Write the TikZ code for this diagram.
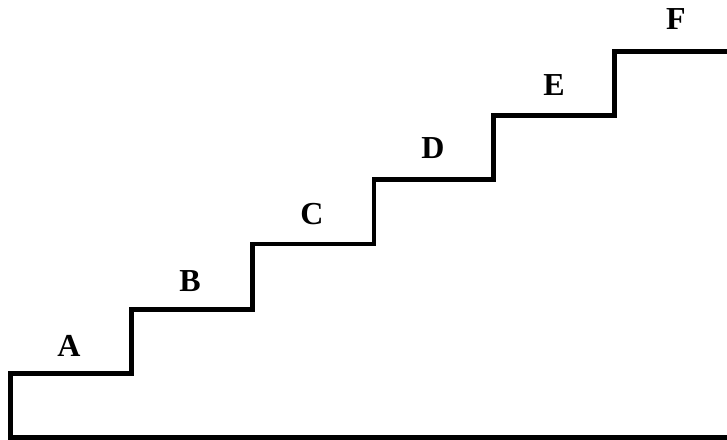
\documentclass[tikz,border=0pt]{standalone}
\usepackage{fontspec}
\setmainfont{Liberation Serif}
\begin{document}
\begin{tikzpicture}[x=1pt,y=-1pt,
  stair/.style={line width=4.6pt,line join=miter,line cap=rect},
  lbl/.style={font=\fontsize{32}{32}\selectfont\bfseries,inner sep=0pt,anchor=center}]
\useasboundingbox (0,0) rectangle (727,439);
\coordinate (r) at (735,51.5);
\coordinate (br) at (735,437.5);
\draw[stair] (br) -- (10.5,437.5) -- (10.5,373.5) -- (131.5,373.5) -- (131.5,309.5)
  -- (252.5,309.5) -- (252.5,244) -- (374,244) -- (374,179.5) -- (493.5,179.5)
  -- (493.5,115.5) -- (614.5,115.5) -- (614.5,51.5) -- (r);
\node[lbl] (A) at (69,346) {A};
\node[lbl] (B) at (190,281) {B};
\node[lbl] (C) at (312,214) {C};
\node[lbl] (D) at (433,148) {D};
\node[lbl] (E) at (554,85) {E};
\node[lbl] (F) at (676,19) {F};
\end{tikzpicture}
\end{document}
